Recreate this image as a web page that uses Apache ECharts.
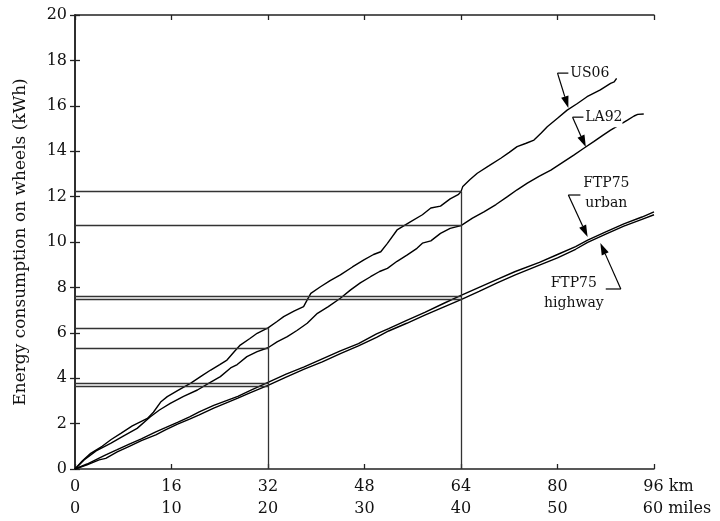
<!DOCTYPE html>
<html>
<head>
<meta charset="utf-8">
<script src="https://cdn.jsdelivr.net/npm/echarts@6/dist/echarts.min.js"></script>
<style>html,body{margin:0;padding:0;background:#fff;}#c{width:720px;height:521px;}</style>
</head>
<body>
<div id="c"></div>
<script>
// ---- data (km, kWh) ----
const us06 = [[0,0],[1.2,0.35],[2.6,0.69],[4.5,1.0],[6.0,1.3],[7.6,1.57],[9.5,1.9],[11.0,2.1],[12.0,2.23],[13.0,2.5],[14.2,2.95],[15.3,3.19],[17.0,3.45],[19.2,3.78],[21.0,4.1],[22.5,4.36],[24.0,4.6],[25.2,4.8],[26.5,5.2],[27.4,5.46],[29.0,5.75],[30.2,5.98],[32.0,6.22],[33.5,6.5],[34.6,6.71],[36.3,6.95],[37.9,7.15],[38.5,7.45],[39.1,7.74],[40.7,8.03],[42.3,8.3],[44.0,8.55],[46.0,8.9],[47.9,9.21],[49.5,9.45],[50.7,9.57],[51.8,9.94],[53.4,10.53],[55.6,10.89],[57.6,11.2],[59.0,11.5],[60.6,11.58],[62.2,11.9],[63.6,12.1],[64.0,12.22],[64.3,12.45],[65.5,12.75],[66.7,13.03],[68.6,13.35],[70.6,13.69],[72.0,13.95],[73.3,14.2],[74.8,14.35],[76.1,14.49],[77.3,14.8],[78.3,15.08],[80.0,15.45],[81.6,15.81],[83.3,16.1],[84.9,16.4],[87.1,16.7],[88.8,16.99],[89.4,17.05],[89.8,17.21]];
const la92 = [[0,0],[1.5,0.4],[3.5,0.8],[5.9,1.13],[8.0,1.45],[10.3,1.79],[12.5,2.3],[14.0,2.6],[15.8,2.89],[18.0,3.2],[20.3,3.48],[22.0,3.75],[24.1,4.07],[25.8,4.45],[26.9,4.6],[28.5,4.95],[30.2,5.17],[32.0,5.34],[33.5,5.6],[35.2,5.83],[36.8,6.1],[38.5,6.42],[40.2,6.86],[42.0,7.15],[44.0,7.52],[45.7,7.89],[47.3,8.2],[49.0,8.47],[50.5,8.7],[51.8,8.84],[53.4,9.15],[55.1,9.43],[56.7,9.72],[57.6,9.95],[59.0,10.05],[60.6,10.38],[62.2,10.6],[64.0,10.72],[65.9,11.05],[67.8,11.33],[69.8,11.65],[71.7,12.0],[73.3,12.3],[75.0,12.59],[77.0,12.9],[78.9,13.17],[80.8,13.5],[82.7,13.83],[84.3,14.12],[86.0,14.42],[87.5,14.7],[88.8,14.93],[90.2,15.15],[91.6,15.37],[92.7,15.55],[93.3,15.62],[94.3,15.64]];
const ftpUrban = [[0,0],[2,0.22],[4,0.48],[5.1,0.62],[7,0.85],[9,1.1],[11,1.33],[13.4,1.64],[15,1.82],[17,2.05],[19,2.3],[20.6,2.52],[23,2.8],[25,3.0],[27,3.2],[29,3.45],[32,3.82],[35,4.18],[38,4.5],[41,4.85],[44,5.2],[47,5.52],[50,5.95],[52,6.18],[55,6.55],[58,6.9],[61,7.28],[64,7.65],[67,8.0],[70,8.35],[73,8.7],[77,9.1],[80,9.45],[83,9.8],[85,10.08],[88,10.45],[91,10.8],[94,11.1],[96,11.33]];
const ftpHighway = [[0,0],[2,0.18],[4,0.4],[5.1,0.47],[7,0.75],[9,1.0],[11,1.25],[13.4,1.5],[15,1.72],[17,1.98],[19,2.2],[20.6,2.38],[23,2.68],[25,2.9],[27,3.12],[29,3.35],[32,3.68],[35,4.05],[38,4.4],[41,4.72],[44,5.08],[47,5.42],[50,5.8],[52,6.08],[55,6.42],[58,6.78],[61,7.12],[64,7.46],[67,7.82],[70,8.2],[73,8.55],[77,8.98],[80,9.3],[83,9.68],[85,9.98],[88,10.35],[91,10.7],[94,11.0],[96,11.2]];
// read-off values at 32 km and 64 km
const readAt32 = [6.21, 5.33, 3.79, 3.66];
const readAt64 = [12.22, 10.72, 7.63, 7.46];
// axis ticks
const kmTicks = {min: 0, max: 96, interval: 16, unit: 'km'};
const mileTicks = {min: 0, max: 60, interval: 10, unit: 'miles'};
const yTicks = {min: 0, max: 20, interval: 2};
const yName = 'Energy consumption on wheels (kWh)';
// annotations (data coords)
const notes = [
  {lines: ['US06'], corner: [80.0, 17.44], hEnd: [81.8, 17.44], tip: [81.8, 15.9], text: [82.1, 17.44], align: 'left'},
  {lines: ['LA92'], corner: [82.5, 15.5], hEnd: [84.3, 15.5], tip: [84.7, 14.18], text: [84.6, 15.5], align: 'left'},
  {lines: ['FTP75', 'urban'], corner: [81.8, 12.07], hEnd: [83.8, 12.07], tip: [85.0, 10.22], text: [88.1, 12.15], align: 'center'},
  {lines: ['FTP75', 'highway'], corner: [90.5, 7.93], hEnd: [88.0, 7.93], tip: [87.1, 9.96], text: [82.7, 7.75], align: 'center'}
];

const FONT = 'DejaVu Serif';
const INK = '#111';
const chart = echarts.init(document.getElementById('c'));

const refLines = [];
readAt32.forEach(v => refLines.push([{coord: [0, v]}, {coord: [32, v]}]));
readAt64.forEach(v => refLines.push([{coord: [0, v]}, {coord: [64, v]}]));
refLines.push([{coord: [32, 0]}, {coord: [32, Math.max(...readAt32)]}]);
refLines.push([{coord: [64, 0]}, {coord: [64, Math.max(...readAt64)]}]);

function unitLabel(cfg) {
  return function (v) {
    if (v === cfg.max) return '{p|}' + v + ' ' + cfg.unit;
    return String(v);
  };
}

const lineSeries = (name, data) => ({
  name, type: 'line', data, xAxisIndex: 0, yAxisIndex: 0,
  showSymbol: false, symbol: 'none', smooth: false,
  lineStyle: {color: '#000', width: 1.4}, silent: true, animation: false, clip: true
});

const series = [
  lineSeries('US06', us06),
  lineSeries('LA92', la92),
  lineSeries('FTP75 urban', ftpUrban),
  lineSeries('FTP75 highway', ftpHighway)
];
series[0].markLine = {
  silent: true, symbol: ['none', 'none'], animation: false,
  label: {show: false},
  lineStyle: {color: '#333', width: 1.3, type: 'solid'},
  data: refLines
};

const axisLineStyle = {lineStyle: {color: '#222', width: 1.5}};
const tickStyle = {inside: true, length: 5, lineStyle: {color: '#222', width: 1.3}};
const labelStyle = {fontFamily: FONT, fontSize: 16, color: INK};

chart.setOption({
  animation: false,
  backgroundColor: '#fff',
  grid: {left: 75, right: 66, top: 15, bottom: 52, containLabel: false},
  xAxis: [
    {type: 'value', position: 'bottom', min: kmTicks.min, max: kmTicks.max, interval: kmTicks.interval,
     axisLine: axisLineStyle, axisTick: tickStyle, splitLine: {show: false},
     axisLabel: Object.assign({}, labelStyle, {margin: 10, showMaxLabel: true, formatter: unitLabel(kmTicks),
       rich: {p: {width: 29}}})},
    {type: 'value', position: 'bottom', offset: 22, min: mileTicks.min, max: mileTicks.max, interval: mileTicks.interval,
     axisLine: {show: false}, axisTick: {show: false}, splitLine: {show: false},
     axisLabel: Object.assign({}, labelStyle, {margin: 10, showMaxLabel: true, formatter: unitLabel(mileTicks),
       rich: {p: {width: 46}}})},
    {type: 'value', position: 'top', min: kmTicks.min, max: kmTicks.max, interval: kmTicks.interval,
     axisLine: axisLineStyle, axisTick: tickStyle, splitLine: {show: false}, axisLabel: {show: false}}
  ],
  yAxis: [
    {type: 'value', position: 'left', min: yTicks.min, max: yTicks.max, interval: yTicks.interval,
     axisLine: axisLineStyle, axisTick: tickStyle, splitLine: {show: false},
     axisLabel: Object.assign({}, labelStyle, {margin: 8}),
     name: yName, nameLocation: 'middle', nameGap: 46, nameRotate: 90,
     nameTextStyle: {fontFamily: FONT, fontSize: 17, color: INK}},
    {type: 'value', position: 'right', min: yTicks.min, max: yTicks.max, interval: yTicks.interval,
     axisLine: axisLineStyle, axisTick: tickStyle, splitLine: {show: false}, axisLabel: {show: false}}
  ],
  series
});

// annotations drawn in pixel space converted from data coords
const px = p => chart.convertToPixel({seriesIndex: 0}, p);
const graphics = [];
notes.forEach(n => {
  const c = px(n.corner), h = px(n.hEnd), t = px(n.tip), tx = px(n.text);
  graphics.push({type: 'line', shape: {x1: c[0], y1: c[1], x2: h[0], y2: h[1]}, style: {stroke: '#000', lineWidth: 1.2}, z: 10});
  const dx = t[0] - c[0], dy = t[1] - c[1], L = Math.hypot(dx, dy);
  const ux = dx / L, uy = dy / L, aL = 12, aW = 3.8;
  const bx = t[0] - ux * aL, by = t[1] - uy * aL;
  graphics.push({type: 'line', shape: {x1: c[0], y1: c[1], x2: bx, y2: by}, style: {stroke: '#000', lineWidth: 1.2}, z: 10});
  graphics.push({type: 'polygon', shape: {points: [[t[0], t[1]], [bx - uy * aW, by + ux * aW], [bx + uy * aW, by - ux * aW]]}, style: {fill: '#000'}, z: 10});
  graphics.push({type: 'text', x: tx[0], y: tx[1], z: 11,
    style: {text: n.lines.join('\n'), fontFamily: FONT, fontSize: 14, fill: INK, lineHeight: 20,
      align: n.align, verticalAlign: 'middle', backgroundColor: n.lines.length === 1 ? '#fff' : 'transparent'}});
});
chart.setOption({graphic: graphics});
</script>
</body>
</html>
